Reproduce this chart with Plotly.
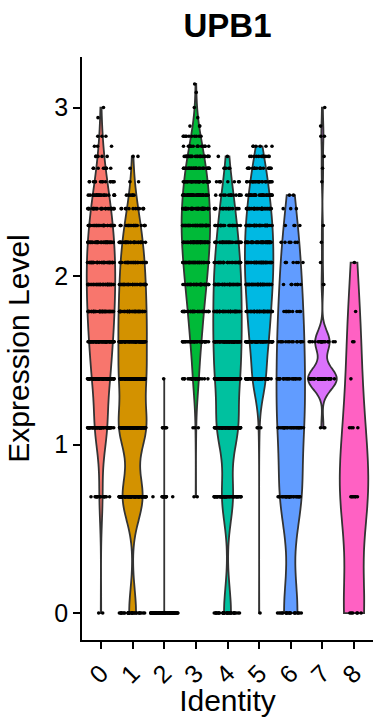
import numpy as np
import plotly.graph_objects as go

# Cluster identities along the x axis
clusters = ["0", "1", "2", "3", "4", "5", "6", "7", "8"]

# Distinct expression values that occur in the data
levels = [0.00, 0.69, 1.10, 1.39, 1.61, 1.79, 1.95, 2.08, 2.20, 2.30, 2.40, 2.48,
          2.56, 2.64, 2.71, 2.77, 2.83, 2.89, 2.94, 3.00, 3.04, 3.09, 3.14]

# Number of cells at each expression value (aligned with `levels`), per cluster
cells_0 = [2, 16, 56, 64, 68, 66, 60, 52, 42, 36, 26, 20, 14, 8, 5, 3, 3, 0, 1, 1, 0, 0, 0]
cells_1 = [30, 86, 108, 86, 70, 60, 48, 38, 30, 22, 12, 6, 2, 1, 2, 0, 0, 0, 0, 0, 0, 0, 0]
cells_2 = [90, 14, 6, 1, 0, 0, 0, 0, 0, 0, 0, 0, 0, 0, 0, 0, 0, 0, 0, 0, 0, 0, 0]
cells_3 = [0, 2, 3, 26, 40, 50, 58, 58, 58, 56, 48, 40, 36, 30, 22, 16, 10, 3, 1, 1, 0, 1, 1]
cells_4 = [34, 52, 90, 82, 74, 62, 54, 42, 32, 26, 18, 14, 8, 5, 2, 0, 0, 0, 0, 0, 0, 0, 0]
cells_5 = [1, 0, 3, 54, 62, 68, 66, 60, 52, 46, 36, 28, 24, 18, 12, 6, 0, 0, 0, 0, 0, 0, 0]
cells_6 = [20, 28, 26, 20, 15, 12, 9, 7, 6, 4, 3, 2, 0, 0, 0, 0, 0, 0, 0, 0, 0, 0, 0]
cells_7 = [0, 0, 3, 40, 20, 0, 2, 1, 1, 1, 0, 0, 1, 1, 1, 0, 2, 1, 0, 1, 0, 0, 0]
cells_8 = [6, 7, 4, 1, 2, 1, 0, 1, 0, 0, 0, 0, 0, 0, 0, 0, 0, 0, 0, 0, 0, 0, 0]

cell_counts = [cells_0, cells_1, cells_2, cells_3, cells_4,
               cells_5, cells_6, cells_7, cells_8]

# ggplot-style hue palette for nine groups
palette = ["#F8766D", "#D39200", "#93AA00", "#00BA38", "#00C19F",
           "#00B9E3", "#619CFF", "#DB72FB", "#FF61C3"]

# Kernel bandwidth of each violin
bandwidths = [0.15, 0.14, 0.001, 0.13, 0.15, 0.12, 0.22, 0.065, 0.28]

FONT = "Liberation Sans, Arial, Helvetica, sans-serif"

fig = go.Figure()

# Violin bodies
for name, counts, color, bw in zip(clusters, cell_counts, palette, bandwidths):
    values = np.repeat(levels, counts)
    fig.add_trace(go.Violin(
        x=[name] * len(values),
        y=values,
        name=name,
        fillcolor=color,
        line=dict(color="#333333", width=1.8),
        opacity=1,
        width=0.9,
        scalemode="width",
        spanmode="hard",
        bandwidth=bw,
        points=False,
        box_visible=False,
        meanline_visible=False,
        hoverinfo="skip",
        showlegend=False,
    ))

# Jittered cells drawn over the violins
for name, counts in zip(clusters, cell_counts):
    values = np.repeat(levels, counts)
    fig.add_trace(go.Box(
        x=[name] * len(values),
        y=values,
        name=name,
        width=0.86,
        boxpoints="all",
        jitter=1,
        pointpos=0,
        fillcolor="rgba(0,0,0,0)",
        line=dict(color="rgba(0,0,0,0)", width=0),
        whiskerwidth=0,
        marker=dict(color="black", size=3.6, line=dict(width=0)),
        hoverinfo="skip",
        showlegend=False,
    ))

fig.update_layout(
    width=373, height=717,
    margin=dict(l=82, r=0, t=57, b=77),
    paper_bgcolor="white", plot_bgcolor="white",
    violinmode="overlay",
    boxmode="overlay",
    showlegend=False,
    font=dict(family=FONT, color="black"),
    title=dict(
        text="<b>UPB1</b>",
        font=dict(family=FONT, size=33, color="black"),
        xref="paper", x=0.5, xanchor="center",
        yref="container", y=1 - 25 / 717, yanchor="middle",
    ),
)

fig.update_xaxes(
    type="category",
    categoryorder="array", categoryarray=clusters,
    range=[-0.6, 8.6],
    showline=True, linecolor="black", linewidth=1.8,
    ticks="outside", ticklen=7, tickwidth=1.5, tickcolor="black",
    tickangle=-45,
    tickfont=dict(family=FONT, size=25, color="black"),
    showgrid=False, zeroline=False,
    title=dict(text="Identity", font=dict(family=FONT, size=30, color="black"),
               standoff=3),
)

fig.update_yaxes(
    range=[-0.16, 3.30],
    tickvals=[0, 1, 2, 3],
    ticktext=["0", "1", "2", "3"],
    showline=True, linecolor="black", linewidth=1.8,
    ticks="outside", ticklen=7, tickwidth=1.5, tickcolor="black",
    tickfont=dict(family=FONT, size=25, color="black"),
    showgrid=False, zeroline=False,
    title=dict(text="Expression Level", font=dict(family=FONT, size=30, color="black"),
               standoff=16),
)

fig.write_html("out.html")
